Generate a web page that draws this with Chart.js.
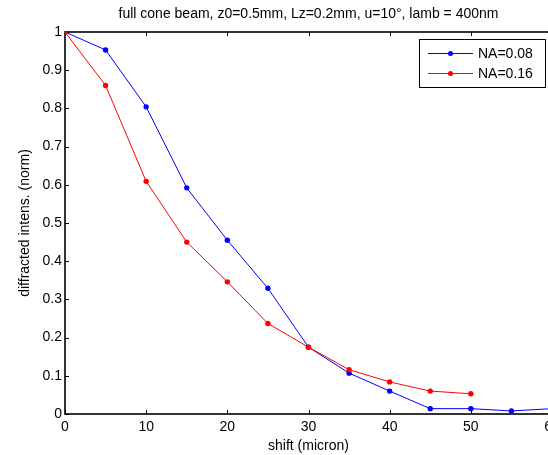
<!DOCTYPE html>
<html>
<head>
<meta charset="utf-8">
<script src="https://cdn.jsdelivr.net/npm/chart.js@4/dist/chart.umd.min.js"></script>
<style>
  html, body { margin: 0; padding: 0; background: #fff; overflow: hidden; }
  #wrap { width: 548px; height: 455px; overflow: hidden; }
</style>
</head>
<body>
<div id="wrap"><canvas id="chart" width="560" height="455"></canvas></div>
<script>
const shiftMicron = [0, 5, 10, 15, 20, 25, 30, 35, 40, 45, 50, 55, 60]
const na008 = [1, 0.953, 0.804, 0.592, 0.455, 0.329, 0.175, 0.107, 0.060, 0.014, 0.014, 0.008, 0.014]
const na016 = [1, 0.860, 0.609, 0.450, 0.346, 0.237, 0.175, 0.116, 0.084, 0.060, 0.053]
const xTicks = [0, 10, 20, 30, 40, 50, 60]
const yTicks = [0, 0.1, 0.2, 0.3, 0.4, 0.5, 0.6, 0.7, 0.8, 0.9, 1]

const FONT = '"Liberation Sans", Arial, Helvetica, sans-serif'

function points (ys) {
  return ys.map((y, i) => ({ x: shiftMicron[i], y }))
}

// matlab style box with inward ticks on all four sides
const boxPlugin = {
  id: 'box',
  beforeDatasetsDraw (chart) {
    const { ctx, chartArea: a, scales } = chart
    const len = 4
    ctx.save()
    ctx.strokeStyle = '#000'
    ctx.lineWidth = 1
    ctx.beginPath()
    for (const v of xTicks) {
      const px = Math.round(scales.x.getPixelForValue(v)) + 0.5
      ctx.moveTo(px, a.bottom); ctx.lineTo(px, a.bottom - len)
      ctx.moveTo(px, a.top); ctx.lineTo(px, a.top + len)
    }
    for (const v of yTicks) {
      const py = Math.round(scales.y.getPixelForValue(v)) + 0.5
      ctx.moveTo(a.left, py); ctx.lineTo(a.left + len, py)
      ctx.moveTo(a.right, py); ctx.lineTo(a.right - len, py)
    }
    ctx.stroke()
    ctx.lineWidth = 1.6
    ctx.strokeRect(a.left, a.top, a.right - a.left, a.bottom - a.top)
    ctx.restore()
  }
}

const legendPlugin = {
  id: 'boxLegend',
  afterDatasetsDraw (chart) {
    const { ctx, chartArea: a } = chart
    const w = 126
    const h = 48
    const left = a.right - 7 - w
    const top = a.top + 7
    ctx.save()
    ctx.fillStyle = '#fff'
    ctx.fillRect(left, top, w, h)
    ctx.strokeStyle = '#000'
    ctx.lineWidth = 1
    ctx.strokeRect(left + 0.5, top + 0.5, w, h)
    chart.data.datasets.forEach((ds, i) => {
      const y = top + 14 + i * 20
      ctx.strokeStyle = ds.borderColor
      ctx.lineWidth = 1
      ctx.beginPath()
      ctx.moveTo(left + 9, y + 0.5)
      ctx.lineTo(left + 54, y + 0.5)
      ctx.stroke()
      ctx.fillStyle = ds.backgroundColor
      ctx.beginPath()
      ctx.arc(left + 31.5, y + 0.5, 2.5, 0, Math.PI * 2)
      ctx.fill()
      ctx.fillStyle = '#000'
      ctx.font = '14px ' + FONT
      ctx.textBaseline = 'middle'
      ctx.textAlign = 'left'
      ctx.fillText(ds.label, left + 59, y + 1)
    })
    ctx.restore()
  }
}

new Chart(document.getElementById('chart'), {
  type: 'line',
  data: {
    datasets: [
      {
        label: 'NA=0.08',
        data: points(na008),
        borderColor: '#0000ff',
        backgroundColor: '#0000ff',
        borderWidth: 1,
        pointRadius: 2.7,
        pointBorderWidth: 0,
        tension: 0,
        order: 1
      },
      {
        label: 'NA=0.16',
        data: points(na016),
        borderColor: '#ff0000',
        backgroundColor: '#ff0000',
        borderWidth: 1,
        pointRadius: 2.7,
        pointBorderWidth: 0,
        tension: 0,
        order: 0
      }
    ]
  },
  options: {
    responsive: false,
    animation: false,
    layout: { padding: { left: 0, right: 8, top: 0, bottom: 0 } },
    plugins: {
      legend: { display: false },
      tooltip: { enabled: false },
      title: {
        display: true,
        fullSize: false,
        text: 'full cone beam, z0=0.5mm, Lz=0.2mm, u=10°, lamb = 400nm',
        color: '#000',
        font: { family: FONT, size: 14, weight: 'normal', lineHeight: 1.2 },
        padding: { top: 6, bottom: 9.2 }
      }
    },
    scales: {
      x: {
        type: 'linear',
        min: 0,
        max: 60,
        afterFit: (scale) => {
          scale.height = 41
          scale.paddingLeft = 0
          scale.paddingRight = 0
        },
        afterBuildTicks: (scale) => { scale.ticks = xTicks.map(v => ({ value: v })) },
        grid: { display: false, drawTicks: false },
        border: { display: false },
        ticks: { color: '#000', padding: 5, maxRotation: 0, font: { family: FONT, size: 14 } },
        title: {
          display: true,
          text: 'shift (micron)',
          color: '#000',
          font: { family: FONT, size: 14, lineHeight: 1.2 },
          padding: { top: 0, bottom: 0 }
        }
      },
      y: {
        min: 0,
        max: 1,
        afterFit: (scale) => {
          scale.width = 65
          scale.paddingTop = 0
          scale.paddingBottom = 0
        },
        afterBuildTicks: (scale) => { scale.ticks = yTicks.map(v => ({ value: v })) },
        grid: { display: false, drawTicks: false },
        border: { display: false },
        ticks: {
          color: '#000',
          padding: 3,
          font: { family: FONT, size: 14 },
          callback: (v) => String(+v.toFixed(1))
        },
        title: {
          display: true,
          text: 'diffracted intens. (norm)',
          color: '#000',
          font: { family: FONT, size: 14, lineHeight: 1.2 },
          padding: { top: 17, bottom: 0 }
        }
      }
    }
  },
  plugins: [boxPlugin, legendPlugin]
})
</script>
</body>
</html>
